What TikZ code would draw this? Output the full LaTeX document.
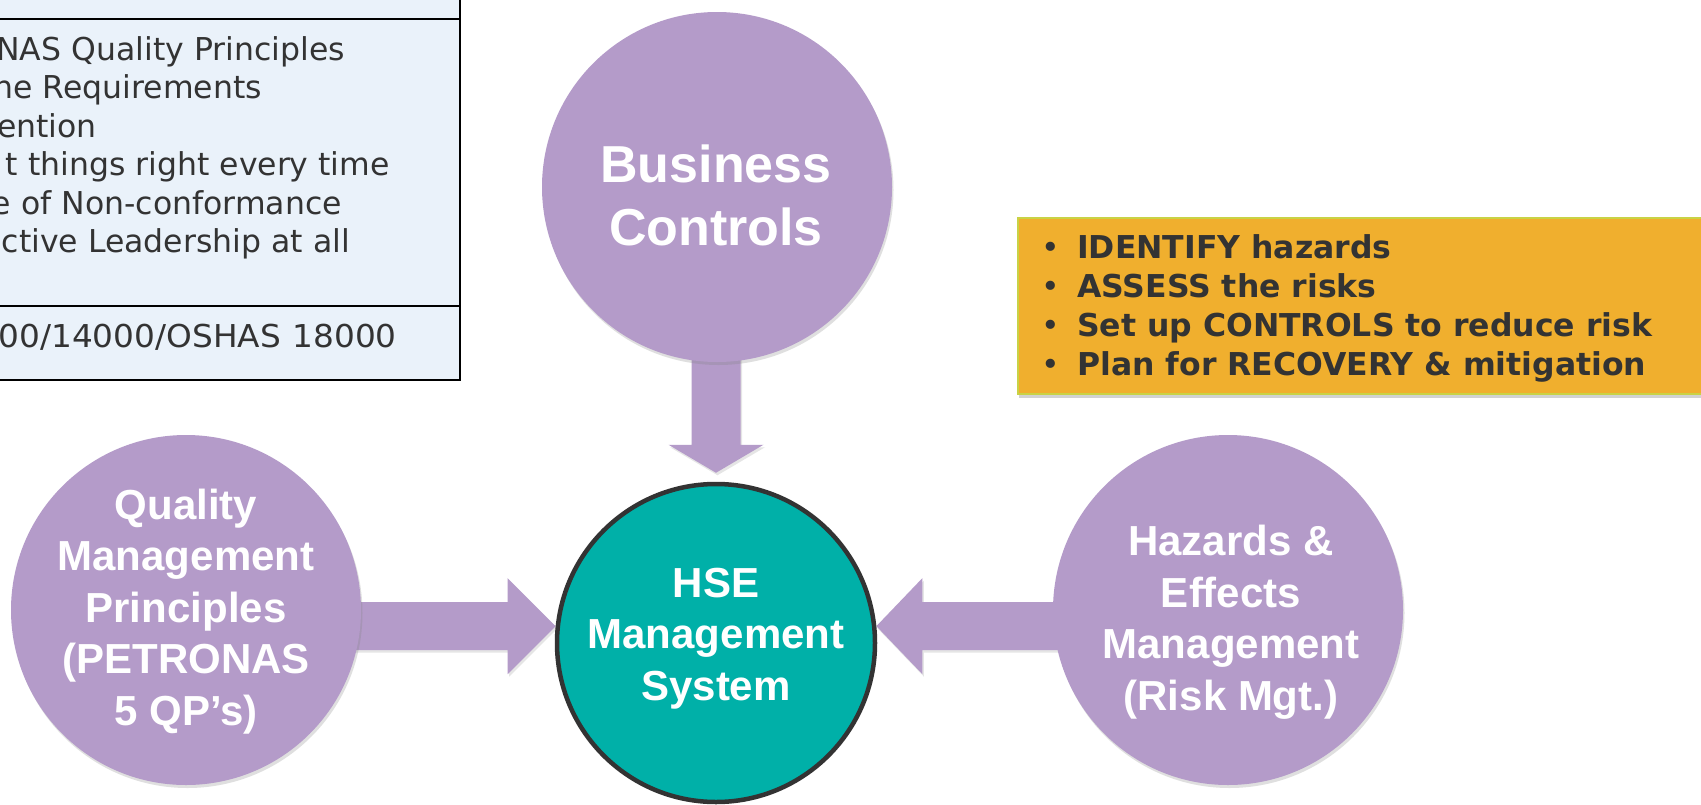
\documentclass[tikz,border=0pt]{standalone}
\usepackage{fontspec}
\setmainfont{Liberation Sans}
\newfontfamily\dvs{DejaVu Sans}
\newfontfamily\dvsw{DejaVu Sans}[FakeStretch=1.04, WordSpace=1.12]
\usetikzlibrary{calc,shadows}
\definecolor{lilac}{HTML}{B49BC9}
\definecolor{teal2}{HTML}{00B0A8}
\definecolor{ambr}{HTML}{F0AF2E}
\definecolor{lineyel}{HTML}{C9D245}
\definecolor{paleblue}{HTML}{EAF2FA}
\definecolor{ink}{HTML}{333333}
\pgfdeclarelayer{back}
\pgfdeclarelayer{bg}
\pgfsetlayers{back,bg,main}
\begin{document}
\begin{tikzpicture}[x=1pt,y=-1pt,
  purp/.style={circle, fill=lilac, inner sep=0pt, minimum size=350pt,
    drop shadow={shadow xshift=1.5pt, shadow yshift=-3pt, opacity=.25}},
  hsecirc/.style={circle, fill=teal2, draw=ink, line width=4.5pt, inner sep=0pt, minimum size=318pt},
  ctext/.style={text=white, font=\bfseries\fontsize{42}{51.5}\selectfont, align=center, anchor=base, inner sep=0pt},
  arr/.style={fill=lilac, drop shadow={shadow xshift=1.5pt, shadow yshift=-2.5pt, opacity=.2}},
  tline/.style={text=ink, font=\dvs\fontsize{31.5}{38.5}\selectfont, anchor=base east, inner sep=0pt},
  obox/.style={rectangle, fill=ambr, draw=lineyel, line width=1.5pt, inner sep=0pt,
    drop shadow={shadow xshift=1pt, shadow yshift=-4pt, opacity=.35}},
  otext/.style={text=ink, font=\dvs\bfseries\fontsize{31.5}{38.7}\selectfont, align=left, anchor=base west, inner sep=0pt}
]
\useasboundingbox (0,0) rectangle (1701,804);
\begin{pgfonlayer}{back}
\fill[white] (0,0) rectangle (1701,804);
\end{pgfonlayer}

% table (cut off at the left)
\draw[line width=2pt, fill=paleblue] (-10,-10) rectangle (460,380);
\draw[line width=2pt] (-10,19) -- (460,19);
\draw[line width=2pt] (-10,306) -- (460,306);
\node[tline] (t1) at (345,60) {NAS Quality Principles};
\node[tline] (t2) at (262,98.5) {he Requirements};
\node[tline] (t3) at (97,137) {ention};
\node[tline] (t4) at (390,175.5) {t things right every time};
\node[tline] (t5) at (342,214) {e of Non-conformance};
\node[tline] (t6) at (350,252.5) {ctive Leadership at all};
\node[tline, font=\dvsw\fontsize{31.5}{38.5}\selectfont] (t7) at (397,347) {00/14000/OSHAS 18000};

% circles
\node[purp] (biz) at (717,187) {};
\node[purp] (qual) at (186,610) {};
\node[purp] (haz) at (1228,610) {};
\node[hsecirc] (hse) at (716,643) {};

% block arrows
\begin{pgfonlayer}{bg}
\fill[arr] let \p1=(hse.174), \p2=(qual.center) in
  (\p1) -- (\x1-48pt,\y1+48pt) -- (\x1-48pt,\y1+24pt) -- (\x2,\y1+24pt)
  -- (\x2,\y1-24pt) -- (\x1-48pt,\y1-24pt) -- (\x1-48pt,\y1-48pt) -- cycle;
\fill[arr] let \p1=(hse.6), \p2=(haz.center) in
  (\p1) -- (\x1+46pt,\y1+48pt) -- (\x1+46pt,\y1+24pt) -- (\x2,\y1+24pt)
  -- (\x2,\y1-24pt) -- (\x1+46pt,\y1-24pt) -- (\x1+46pt,\y1-48pt) -- cycle;
\fill[arr] let \p1=([yshift=9pt]hse.north), \p2=(biz.center) in
  (\p1) -- (\x1-47.5pt,\y1+28pt) -- (\x1-24.5pt,\y1+28pt) -- (\x1-24.5pt,\y2)
  -- (\x1+24.5pt,\y2) -- (\x1+24.5pt,\y1+28pt) -- (\x1+47.5pt,\y1+28pt) -- cycle;
\end{pgfonlayer}

% circle texts (anchor base = baseline of the last line)
\node[ctext, font=\bfseries\fontsize{52}{63}\selectfont] (biztxt) at (716,245) {Business\\Controls};
\node[ctext] (qualtxt) at (186,725) {Quality\\Management\\Principles\\(PETRONAS\\5 QP’s)};
\node[ctext] (hsetxt) at (716,700) {HSE\\Management\\System};
\node[ctext] (haztxt) at (1231,710) {Hazards \&\\Effects\\Management\\(Risk Mgt.)};

% orange box
\node[obox, anchor=north west, minimum width=710pt, minimum height=176pt] (risk) at (1017,217) {};
\node[otext] (risktxt) at (1041,375) {\makebox[36pt][l]{\mdseries•}IDENTIFY hazards\\
\makebox[36pt][l]{\mdseries•}ASSESS the risks\\
\makebox[36pt][l]{\mdseries•}Set up CONTROLS to reduce risk\\
\makebox[36pt][l]{\mdseries•}Plan for RECOVERY \& mitigation};
\end{tikzpicture}
\end{document}
